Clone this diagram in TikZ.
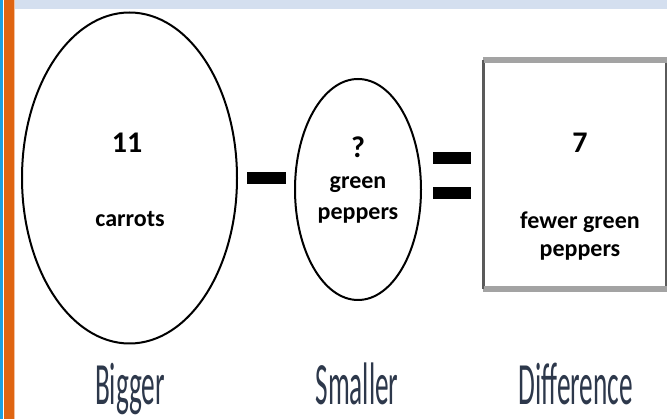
\documentclass[tikz,border=0pt]{standalone}
\usepackage{fontspec}
\setmainfont{Carlito}
\usetikzlibrary{shapes.geometric}
\definecolor{framegray}{HTML}{5A5A5A}
\definecolor{edgegray}{HTML}{A3A3A3}
\definecolor{topband}{HTML}{D4DFEF}
\definecolor{sideorange}{HTML}{DF6512}
\definecolor{sideblue}{HTML}{1BA1E2}
\definecolor{labelink}{HTML}{2D384B}
\tikzset{
  oval/.style={ellipse, draw=black, line width=2pt, inner sep=0pt},
  numtext/.style={font=\bfseries\fontsize{30}{34}\selectfont, inner sep=0pt},
  wordtext/.style={font=\bfseries\fontsize{24}{29}\selectfont, inner sep=0pt, align=center},
  bar/.style={fill=black, draw=none},
  caption/.style={font=\fontsize{60}{68}\selectfont, text=labelink, inner sep=0pt, anchor=base},
}
\newcommand{\narrow}[1]{\scalebox{0.455}[1]{#1}}
\begin{document}
\begin{tikzpicture}[x=1pt,y=-1pt]
  \useasboundingbox (0,0) rectangle (667,419);
  \fill[white] (0,0) rectangle (667,419);
  % page decoration: top band and left side strips
  \fill[topband] (15,0) rectangle (667,9);
  \fill[sideblue] (0,0) rectangle (3,419);
  \fill[sideorange] (4,0) rectangle (14,419);
  \fill[sideorange!40] (14,0) rectangle (15,419);

  % the three parts of the subtraction
  \node[oval, minimum width=215pt, minimum height=331pt] (big) at (129.5,178) {};
  \node[oval, minimum width=126pt, minimum height=221pt] (small) at (358,189.5) {};
  \node[draw=framegray, line width=2pt, minimum width=182pt, minimum height=226.5pt, inner sep=0pt] (diff) at (575,174.75) {};
  \draw[edgegray, line width=6pt] (diff.north west) -- (diff.north east);
  \draw[edgegray, line width=6pt] (diff.south west) -- (diff.south east);
  \draw[framegray, line width=2pt] (diff.north west) -- (diff.south west);

  % minus and equals signs
  \fill[bar] (247,172) rectangle (286,184);
  \fill[bar] (433,152) rectangle (471,164);
  \fill[bar] (433,187) rectangle (471,199);

  % texts inside the shapes
  \node[numtext] (n11) at (127,143) {11};
  \node[wordtext] (carrots) at (130,219) {carrots};
  \node[numtext] (q) at (358,147) {?};
  \node[wordtext] (green) at (358,185) {green};
  \node[wordtext] (pep) at (358,215) {peppers};
  \node[numtext] (n7) at (580,143) {7};
  \node[wordtext] (fewer) at (580,222) {fewer green};
  \node[wordtext] (pep2) at (580,252) {peppers};

  % captions
  \node[caption] (cbig) at (130,405) {\narrow{Bigger}};
  \node[caption] (csmall) at (357,405) {\narrow{Smaller}};
  \node[caption] (cdiff) at (576,405) {\narrow{Difference}};
\end{tikzpicture}
\end{document}
